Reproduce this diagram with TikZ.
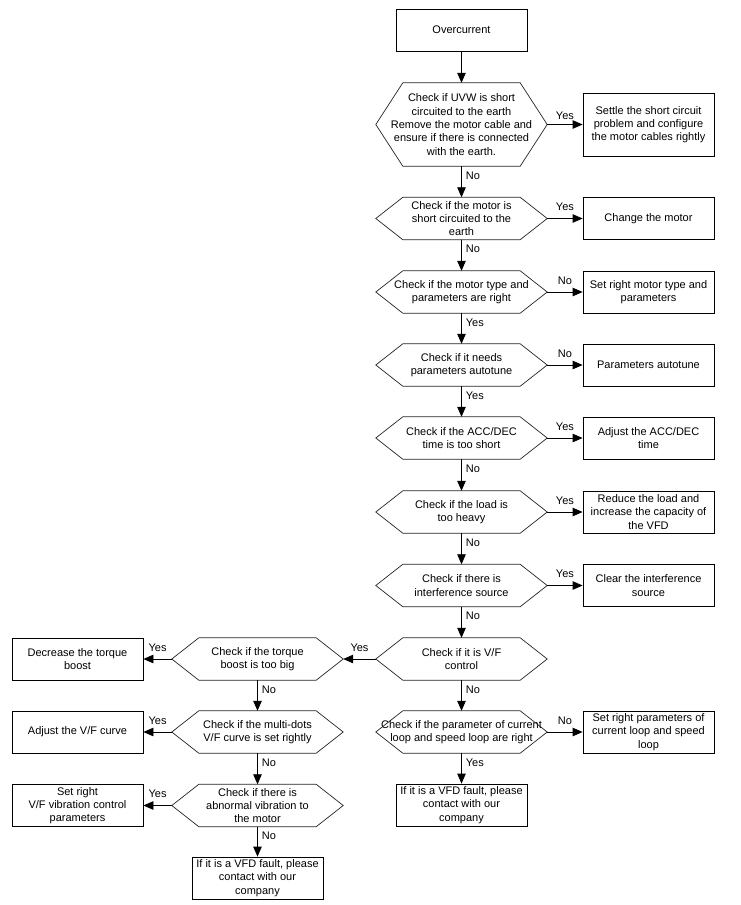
\documentclass[tikz,border=0pt]{standalone}
\usepackage{fontspec}
\setmainfont{Liberation Sans}
\usetikzlibrary{arrows.meta}
\tikzset{
  base/.style={align=center, inner sep=0pt, font=\fontsize{11}{13.3}\selectfont},
  box/.style={base, draw=black, line width=0.8pt, minimum width=131pt, minimum height=42pt},
  hexn/.style={base, minimum width=171pt, minimum height=42pt},
  hexline/.style={draw=black!85, line width=0.7pt},
  arr/.style={draw=black, line width=0.8pt, -{Triangle[length=10pt,width=8.5pt]}},
  lblh/.style={font=\fontsize{11}{13}\selectfont, inner sep=0pt, text height=8pt, text depth=2pt, midway, yshift=11pt},
  lblv/.style={font=\fontsize{11}{13}\selectfont, inner sep=0pt, text height=8pt, text depth=2pt, pos=0.33, anchor=west, xshift=4pt}
}
\newcommand\hexpath[1]{\draw[hexline] (#1.west) -- ([xshift=27pt]#1.north west) -- ([xshift=-27pt]#1.north east) -- (#1.east) -- ([xshift=-27pt]#1.south east) -- ([xshift=27pt]#1.south west) -- cycle;}
\begin{document}
\begin{tikzpicture}[x=1pt,y=-1pt]
\useasboundingbox[fill=white] (0,0) rectangle (740,905);
% main column
\node[box] (oc) at (461.5,30) {Overcurrent};
\node[hexn, minimum height=83pt] (h1) at (461.5,124.5) {Check if UVW is short\\circuited to the earth\\Remove the motor cable and\\ensure if there is connected\\with the earth.};
\node[hexn] (h2) at (461.5,218.5) {Check if the motor is\\short circuited to the\\earth};
\node[hexn] (h3) at (461.5,292) {Check if the motor type and\\parameters are right};
\node[hexn] (h4) at (461.5,365) {Check if it needs\\parameters autotune};
\node[hexn] (h5) at (461.5,438) {Check if the ACC/DEC\\time is too short};
\node[hexn] (h6) at (461.5,512) {Check if the load is\\too heavy};
\node[hexn] (h7) at (461.5,585.5) {Check if there is\\interference source};
\node[hexn] (h8) at (461.5,659) {Check if it is V/F\\control};
\node[hexn] (h9) at (461.5,732) {Check if the parameter of current\\loop and speed loop are right};
\node[box] (b10) at (461.5,805) {If it is a VFD fault, please\\contact with our\\company};
\foreach \n in {h1,h2,h3,h4,h5,h6,h7,h8,h9} {\hexpath{\n}}
% right column
\node[box, minimum height=63pt] (b1) at (648.5,124.5) {Settle the short circuit\\problem and configure\\the motor cables rightly};
\node[box] (b2) at (648.5,218.5) {Change the motor};
\node[box] (b3) at (648.5,292) {Set right motor type and\\parameters};
\node[box] (b4) at (648.5,365) {Parameters autotune};
\node[box] (b5) at (648.5,438) {Adjust the ACC/DEC\\time};
\node[box] (b6) at (648.5,512) {Reduce the load and\\increase the capacity of\\the VFD};
\node[box] (b7) at (648.5,585.5) {Clear the interference\\source};
\node[box] (b9) at (648.5,732) {Set right parameters of\\current loop and speed\\loop};
% left columns
\node[hexn] (l1) at (257.5,659) {Check if the torque\\boost is too big};
\node[hexn] (l2) at (257.5,732) {Check if the multi-dots\\V/F curve is set rightly};
\node[hexn] (l3) at (257.5,805.5) {Check if there is\\abnormal vibration to\\the motor};
\node[box] (l4) at (257.5,878) {If it is a VFD fault, please\\contact with our\\company};
\foreach \n in {l1,l2,l3} {\hexpath{\n}}
\node[box] (k1) at (77.5,659) {Decrease the torque\\boost};
\node[box] (k2) at (77.5,732) {Adjust the V/F curve};
\node[box] (k3) at (77.5,805.5) {Set right\\V/F vibration control\\parameters};
% vertical arrows
\draw[arr] (oc) -- (h1);
\draw[arr] (h1) -- node[lblv] {No} (h2);
\draw[arr] (h2) -- node[lblv] {No} (h3);
\draw[arr] (h3) -- node[lblv] {Yes} (h4);
\draw[arr] (h4) -- node[lblv] {Yes} (h5);
\draw[arr] (h5) -- node[lblv] {No} (h6);
\draw[arr] (h6) -- node[lblv] {No} (h7);
\draw[arr] (h7) -- node[lblv] {No} (h8);
\draw[arr] (h8) -- node[lblv] {No} (h9);
\draw[arr] (h9) -- node[lblv] {Yes} (b10);
\draw[arr] (l1) -- node[lblv] {No} (l2);
\draw[arr] (l2) -- node[lblv] {No} (l3);
\draw[arr] (l3) -- node[lblv] {No} (l4);
% horizontal arrows
\draw[arr] (h1.east) -- node[lblh, yshift=-3pt] {Yes} (b1.west);
\draw[arr] (h2.east) -- node[lblh] {Yes} (b2.west);
\draw[arr] (h3.east) -- node[lblh] {No} (b3.west);
\draw[arr] (h4.east) -- node[lblh] {No} (b4.west);
\draw[arr] (h5.east) -- node[lblh] {Yes} (b5.west);
\draw[arr] (h6.east) -- node[lblh] {Yes} (b6.west);
\draw[arr] (h7.east) -- node[lblh] {Yes} (b7.west);
\draw[arr] (h9.east) -- node[lblh] {No} (b9.west);
\draw[arr] (h8.west) -- node[lblh] {Yes} (l1.east);
\draw[arr] (l1.west) -- node[lblh] {Yes} (k1.east);
\draw[arr] (l2.west) -- node[lblh] {Yes} (k2.east);
\draw[arr] (l3.west) -- node[lblh] {Yes} (k3.east);
\end{tikzpicture}
\end{document}
